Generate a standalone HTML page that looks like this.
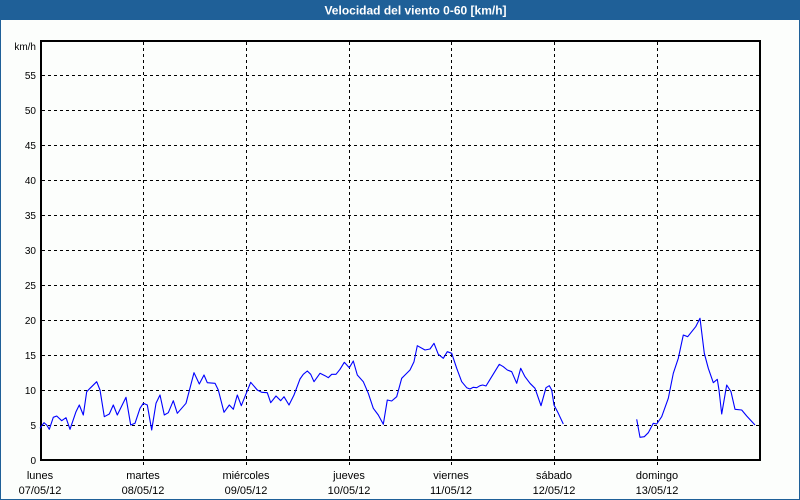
<!DOCTYPE html>
<html>
<head>
<meta charset="utf-8">
<style>
  html, body { margin:0; padding:0; }
  body { width:800px; height:500px; overflow:hidden; background:#fcfefc; }
  svg { display:block; }
  text { font-family: "Liberation Sans", "DejaVu Sans", sans-serif; }
</style>
</head>
<body>
<svg width="800" height="500" viewBox="0 0 800 500" xmlns="http://www.w3.org/2000/svg">
  <!-- window background & frame -->
  <rect x="0" y="0" width="800" height="500" fill="#fcfefc"/>
  <rect x="0" y="0" width="800" height="20" fill="#1f6098"/>
  <rect x="0.5" y="0.5" width="799" height="499" fill="none" stroke="#1f6098" stroke-width="1"/>
  <text x="415.5" y="14.5" text-anchor="middle" font-size="12" font-weight="bold" fill="#ffffff">Velocidad del viento 0-60 [km/h]</text>

  <!-- horizontal grid -->
  <g stroke="#000" stroke-width="1" stroke-dasharray="3 3" shape-rendering="crispEdges">
    <line x1="42" y1="75.5" x2="759" y2="75.5"/>
    <line x1="42" y1="110.5" x2="759" y2="110.5"/>
    <line x1="42" y1="145.5" x2="759" y2="145.5"/>
    <line x1="42" y1="180.5" x2="759" y2="180.5"/>
    <line x1="42" y1="215.5" x2="759" y2="215.5"/>
    <line x1="42" y1="250.5" x2="759" y2="250.5"/>
    <line x1="42" y1="285.5" x2="759" y2="285.5"/>
    <line x1="42" y1="320.5" x2="759" y2="320.5"/>
    <line x1="42" y1="355.5" x2="759" y2="355.5"/>
    <line x1="42" y1="390.5" x2="759" y2="390.5"/>
    <line x1="42" y1="425.5" x2="759" y2="425.5"/>
  </g>
  <!-- vertical grid -->
  <g stroke="#000" stroke-width="1" stroke-dasharray="3 3" shape-rendering="crispEdges">
    <line x1="143.5" y1="42" x2="143.5" y2="465"/>
    <line x1="246.5" y1="42" x2="246.5" y2="465"/>
    <line x1="349.5" y1="42" x2="349.5" y2="465"/>
    <line x1="451.5" y1="42" x2="451.5" y2="465"/>
    <line x1="554.5" y1="42" x2="554.5" y2="465"/>
    <line x1="657.5" y1="42" x2="657.5" y2="465"/>
  </g>

  <!-- plot frame -->
  <rect x="41" y="41" width="719" height="419" fill="none" stroke="#000" stroke-width="2" shape-rendering="crispEdges"/>

  <!-- y labels -->
  <g font-size="10" fill="#000" text-anchor="end">
    <text x="36" y="50">km/h</text>
    <text x="36" y="79">55</text>
    <text x="36" y="114">50</text>
    <text x="36" y="149">45</text>
    <text x="36" y="184">40</text>
    <text x="36" y="219">35</text>
    <text x="36" y="254">30</text>
    <text x="36" y="289">25</text>
    <text x="36" y="324">20</text>
    <text x="36" y="359">15</text>
    <text x="36" y="394">10</text>
    <text x="36" y="429">5</text>
    <text x="36" y="464">0</text>
  </g>

  <!-- x labels -->
  <g font-size="11" fill="#000" text-anchor="middle">
    <text x="40" y="479">lunes</text>
    <text x="40" y="494">07/05/12</text>
    <text x="143" y="479">martes</text>
    <text x="143" y="494">08/05/12</text>
    <text x="246" y="479">miércoles</text>
    <text x="246" y="494">09/05/12</text>
    <text x="349" y="479">jueves</text>
    <text x="349" y="494">10/05/12</text>
    <text x="451" y="479">viernes</text>
    <text x="451" y="494">11/05/12</text>
    <text x="554" y="479">sábado</text>
    <text x="554" y="494">12/05/12</text>
    <text x="657" y="479">domingo</text>
    <text x="657" y="494">13/05/12</text>
  </g>

  <!-- series -->
  <g fill="none" stroke="#0000ff" stroke-width="1.1" stroke-linejoin="round">
    <polyline points="40,428.3 44,422.7 46.7,425 49.3,429.3 53.3,417.3 56.7,416 61.7,420.7 66,417.7 70,429.3 76,411.7 79.3,405 83.3,415 86.7,391.7 90,388.3 96.7,381.7 100,390 104.3,416.7 109.3,414 113.3,405 117.3,415 126,397.3 130.7,425 135,423.3 140,408.3 143.3,403.3 147.3,405 151.7,430 156,403.3 160,395 164.3,415 168.3,412.7 173.3,400.7 177.3,413.3 186,403.3 194,372.7 199.3,384 204,375 207.3,382.7 215,383.3 218.3,390 224,412.3 229.3,405 233.3,409.3 237.3,395 241.3,405.7 250.7,382.3 257.3,390 261.7,392.3 267.3,392.7 270.7,402.7 276,396 280.7,400.7 284,396.7 289,405 294,395 300,379 303.3,374.3 307.3,371 310.7,374.3 314,381.7 320,373.3 325,375.7 328.3,377.7 331.7,374.3 336,374.3 340,369.3 344.3,362.3 349.3,367.7 353.3,361 357.3,375 363.3,381.7 368.3,393.3 373.3,408.3 378.3,415 383.3,424.3 387.3,400 391.7,401 396.7,396.7 401.7,378.3 405,375 410,370 414,361.7 417.3,345.7 425,350 430,349 434,343.3 438.3,354.3 443.3,358.3 447.3,351.7 451.7,353.3 456.7,368.3 461.7,381.7 466.7,387.7 470,389 473.3,387.3 476.7,387.7 480,385.7 482.7,385 486,386 491.7,376.7 499.3,364.3 503.3,366.7 507.3,370 511.7,371.7 516.7,383.3 520.7,368.3 525,376.7 530,383.3 535,388.3 541,405.7 546,387.7 549.3,385.7 551.7,390 554,405 558.3,413.3 563.3,424"/>
    <polyline points="636.7,419.3 640,437.3 644.3,436.7 648.3,432.7 653.3,423.3 656.7,424 661.7,416.7 668.3,398.3 673.3,373.3 678.3,358.3 683.3,335 687.7,336.7 691.7,331.7 695.7,326.7 700,318.3 704.3,353.3 708.3,368.3 713.3,382.7 717.3,379.3 719,390 721.7,414 726.7,385 731,391.7 735,409.3 741.7,410 746.7,416 755,425"/>
  </g>
</svg>
</body>
</html>
